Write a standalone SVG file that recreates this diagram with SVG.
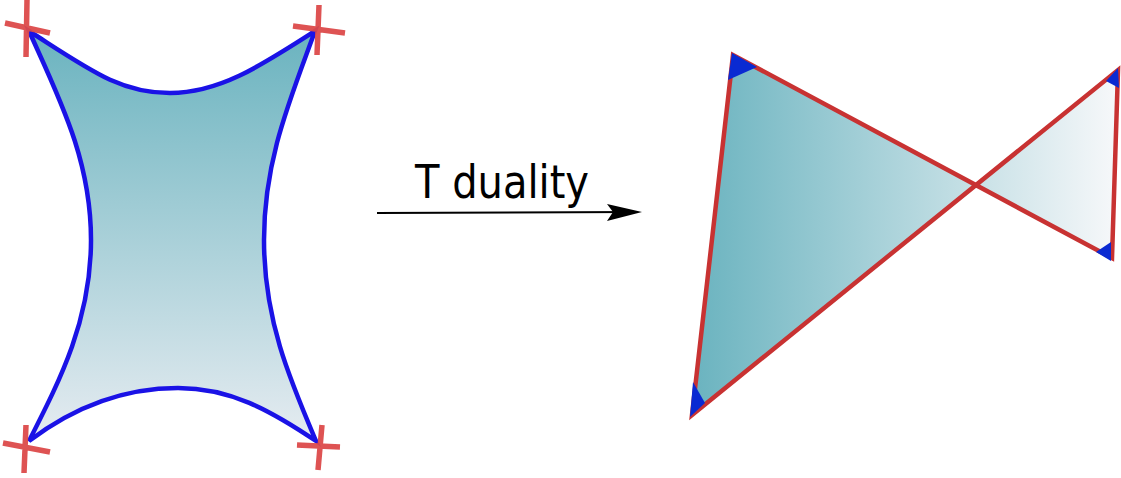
<svg xmlns="http://www.w3.org/2000/svg" width="1121" height="478" viewBox="0 0 1121 478">
<defs>
<linearGradient id="gL" gradientUnits="userSpaceOnUse" x1="0" y1="31" x2="0" y2="441">
<stop offset="0" stop-color="#6ab3bf"/>
<stop offset="1" stop-color="#e6ecf1"/>
</linearGradient>
<linearGradient id="gR" gradientUnits="userSpaceOnUse" x1="692" y1="0" x2="1118" y2="0">
<stop offset="0" stop-color="#6ab3bf"/>
<stop offset="1" stop-color="#f7f8fa"/>
</linearGradient>
<style>
.cross{stroke:#dc4a4a;stroke-width:5.5;fill:none;opacity:0.95}
.edge{stroke:#c83232;stroke-width:4.5;fill:none;stroke-linecap:round}
.tip{fill:#0a2ad2}
</style>
</defs>
<g id="left-shape">
<path d="M29,31 C90,70 120,93 170,93 C220,93 262,65 315,31 C290,100 264,160 264,240 C264,320 290,380 316,441 C270,410 230,388 178,388 C120,388 70,410 29,441 C60,380 91,320 91,240 C91,160 60,100 29,31 Z" fill="url(#gL)" stroke="#1a12e6" stroke-width="4.5" stroke-linejoin="miter"/>
</g>
<g id="crosses">
<g id="cross-tl"><path class="cross" d="M27,0 L26,57 M5,23 L50,33"/></g>
<g id="cross-tr"><path class="cross" d="M319,5 L317,55 M293,26 L345,33"/></g>
<g id="cross-bl"><path class="cross" d="M26,425 L24,473 M3,443 L50,452"/></g>
<g id="cross-br"><path class="cross" d="M322,425 L318,470 M297,445 L340,447"/></g>
</g>
<g id="label">
<text x="415" y="198" font-family="DejaVu Sans, sans-serif" font-size="47" textLength="174" lengthAdjust="spacingAndGlyphs" fill="#000">T duality</text>
</g>
<g id="connectors">
<line x1="377" y1="213" x2="636" y2="212" stroke="#000" stroke-width="2"/>
<path d="M607,204 L642,212 L607,221 L613,212 Z" fill="#000"/>
</g>
<g id="right-shape">
<polygon points="733,55 692,415 976,185" fill="url(#gR)"/>
<polygon points="976,185 1118,70 1112,258" fill="url(#gR)"/>
<path class="edge" d="M733,55 L692,415 L1118,70 L1112,258 Z"/>
<polygon class="tip" points="732,53 728,80 757,67"/>
<polygon class="tip" points="690,417 693,382 705,403"/>
<polygon class="tip" points="1118,68 1106,81 1119,88"/>
<polygon class="tip" points="1111,242 1096,252 1111,261"/>
</g>
</svg>
